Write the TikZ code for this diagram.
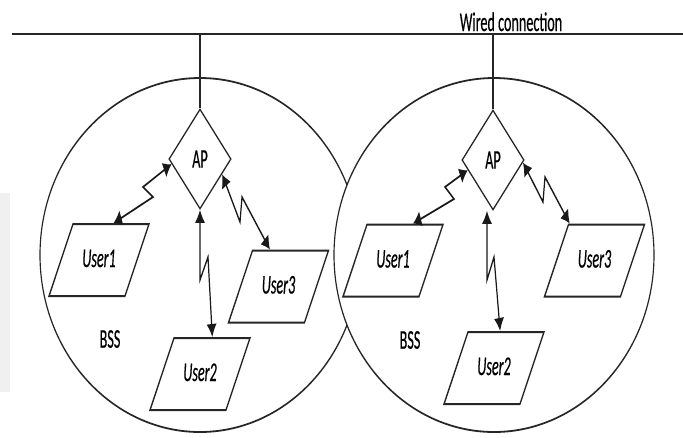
\documentclass[tikz,border=0pt]{standalone}
\usepackage{fontspec}
\setmainfont{Carlito}[FakeBold=0.6]
\usetikzlibrary{shapes.geometric,arrows.meta,calc}
\newcommand{\narrow}[1]{\scalebox{0.82}[1]{#1}}
\begin{document}
\begin{tikzpicture}[x=1pt,y=-1pt]
\useasboundingbox (0,0) rectangle (683,437);
\fill[gray!12] (0,193) rectangle (10,392);
% everything is drawn wide and then squeezed horizontally
\begin{scope}[x=1.5625pt, transform canvas={xscale=0.64},
  bss/.style={draw=black!85, line width=1.8pt},
  wire/.style={draw=black!85, line width=2.8pt},
  drop/.style={draw=black!85, line width=1.6pt},
  apbox/.style={diamond, draw=black!85, line width=1.7pt, fill=white,
    minimum width=97pt, minimum height=100pt, inner sep=0pt,
    font=\fontsize{27}{30}\selectfont},
  userbox/.style={trapezium, trapezium left angle=62.5,
    trapezium right angle=117.5,
    draw=black!85, line width=2pt, fill=white,
    text width=64pt, align=center, text height=16pt, text depth=2pt,
    inner xsep=8.6pt, inner ysep=27pt,
    font=\fontsize{27}{30}\selectfont\itshape},
  label/.style={font=\fontsize{27}{30}\selectfont, inner sep=0pt},
  link/.style={draw=black!90, line width=1.9pt, <->,
    >={Latex[length=13pt,width=16pt]}}]

  % the two cells
  \draw[bss] (200,255) ellipse [x radius=250pt, y radius=177pt];
  \draw[bss, fill=white] (494,255) ellipse [x radius=250pt, y radius=177pt];

  % wired backbone
  \coordinate (wl) at (12,34);
  \coordinate (wr) at (683,34);
  \draw[wire] (wl) -- (wr);
  \node[label, anchor=base] (wired) at (511,31) {\narrow{Wired connection}};

  % access points
  \node[apbox] (ap1) at (200,159) {\narrow{AP}};
  \node[apbox] (ap2) at (493,160) {\narrow{AP}};
  \coordinate (t1) at (200,34);
  \coordinate (t2) at (493,34);
  \draw[drop] (t1) -- (ap1.north);
  \draw[drop] (t2) -- (ap2.north);

  % stations, left cell
  \node[userbox] (u1) at (99,260) {\narrow{User1}};
  \node[userbox] (u2) at (200,374) {\narrow{User2}};
  \node[userbox] (u3) at (278.5,286.5) {\narrow{User3}};
  \node[label] (bss1) at (110,339) {\narrow{BSS}};

  % stations, right cell
  \node[userbox] (v1) at (393,260.5) {\narrow{User1}};
  \node[userbox] (v2) at (494,368) {\narrow{User2}};
  \node[userbox] (v3) at (594.5,260.5) {\narrow{User3}};
  \node[label] (bss2) at (410,340) {\narrow{BSS}};

  % radio links, left cell
  \draw[link] ($(u1.top left corner)!0.53!(u1.top right corner)$)
    -- (153,197) -- (143,187) -- ($(ap1.west)!0.1!(ap1.south)$);
  \draw[link] (ap1.south) -- (200,280) -- (208,257)
    -- ($(u2.top left corner)!0.5!(u2.top right corner)$);
  \draw[link] ($(ap1.east)!0.3!(ap1.south)$) -- (240,222) -- (242,197)
    -- ($(u3.top left corner)!0.23!(u3.top right corner)$);

  % radio links, right cell
  \draw[link] ($(v1.top left corner)!0.6!(v1.top right corner)$)
    -- (454,199) -- (445,187) -- ($(ap2.west)!0.2!(ap2.south)$);
  \draw[link] ($(ap2.south)+(-6,0)$) -- (487,280) -- (494,257)
    -- ($(v2.top left corner)!0.42!(v2.top right corner)$);
  \draw[link] ($(ap2.east)!0.05!(ap2.south)$) -- (543,202) -- (545,177)
    -- ($(v3.top left corner)!0.02!(v3.top right corner)$);
\end{scope}
\end{tikzpicture}
\end{document}
